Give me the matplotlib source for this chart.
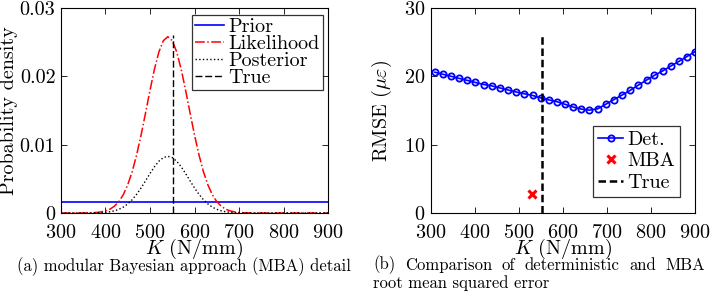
import matplotlib
matplotlib.use("Agg")
import matplotlib.pyplot as plt

plt.rcParams['font.family'] = 'cmr10'
plt.rcParams['mathtext.fontset'] = 'cm'
plt.rcParams['axes.unicode_minus'] = False
plt.rcParams['axes.formatter.use_mathtext'] = True

# (a) densities, every 10 N/mm
k_grid = [300, 310, 320, 330, 340, 350, 360, 370, 380, 390,
          400, 410, 420, 430, 440, 450, 460, 470, 480, 490,
          500, 510, 520, 530, 540, 550, 560, 570, 580, 590,
          600, 610, 620, 630, 640, 650, 660, 670, 680, 690,
          700, 710, 720, 730, 740, 750, 760, 770, 780, 790,
          800, 810, 820, 830, 840, 850, 860, 870, 880, 890, 900]
prior = [0.00167] * len(k_grid)
likelihood = [0.0, 0.0, 0.0, 0.0, 0.0, 0.00001, 0.00002, 0.00004, 0.00008, 0.00016,
              0.00031, 0.00056, 0.00099, 0.00167, 0.00268, 0.00413, 0.00606, 0.00851, 0.01142, 0.01465,
              0.01796, 0.02105, 0.02357, 0.02522, 0.0258, 0.02522, 0.02357, 0.02105, 0.01796, 0.01465,
              0.01142, 0.00851, 0.00606, 0.00413, 0.00268, 0.00167, 0.00099, 0.00056, 0.00031, 0.00016,
              0.00008, 0.00004, 0.00002, 0.00001, 0.0, 0.0, 0.0, 0.0, 0.0, 0.0,
              0.0, 0.0, 0.0, 0.0, 0.0, 0.0, 0.0, 0.0, 0.0, 0.0, 0.0]
posterior = [0.0, 0.0, 0.0, 0.0, 0.0, 0.0, 0.0, 0.0, 0.00002, 0.00005,
             0.00010, 0.00018, 0.00032, 0.00054, 0.00086, 0.00133, 0.00195, 0.00274, 0.00367, 0.00471,
             0.00578, 0.00677, 0.00758, 0.00811, 0.0083, 0.00811, 0.00758, 0.00677, 0.00578, 0.00471,
             0.00367, 0.00274, 0.00195, 0.00133, 0.00086, 0.00054, 0.00032, 0.00018, 0.00010, 0.00005,
             0.00002, 0.0, 0.0, 0.0, 0.0, 0.0, 0.0, 0.0, 0.0, 0.0,
             0.0, 0.0, 0.0, 0.0, 0.0, 0.0, 0.0, 0.0, 0.0, 0.0, 0.0]
true_k = [552, 552]
true_pdf = [0, 0.026]

# (b) RMSE
k_det = [309, 327, 346, 364, 383, 401, 420, 438, 457, 475, 494, 512, 531, 549, 568, 586, 605,
         623, 642, 660, 679, 697, 716, 734, 753, 771, 790, 808, 827, 845, 864, 882, 900]
rmse_det = [20.6, 20.3, 20.0, 19.7, 19.4, 19.1, 18.8, 18.6, 18.3, 18.0, 17.7, 17.45, 17.2, 16.85,
            16.55, 16.3, 15.9, 15.5, 15.2, 15.05, 15.25, 15.9, 16.6, 17.25, 17.95, 18.7, 19.45,
            20.15, 20.8, 21.5, 22.2, 22.9, 23.6]
k_mba = [530]
rmse_mba = [2.8]
true_rmse = [0, 26]

xticks = [300, 400, 500, 600, 700, 800, 900]
yticks_a = [0, 0.01, 0.02, 0.03]
yticklabels_a = ['0', '0.01', '0.02', '0.03']
yticks_b = [0, 10, 20, 30]

caption_a = '(a) modular Bayesian approach (MBA) detail'
caption_b1 = '(b) Comparison of deterministic and MBA'
caption_b2 = 'root mean squared error'

fs = 14.5
cfs = 12
fig = plt.figure(figsize=(7.1, 2.96), dpi=100)
ax1 = fig.add_axes([0.0859, 0.2804, 0.3761, 0.6926])
ax2 = fig.add_axes([0.607, 0.2804, 0.3718, 0.6926])

ax1.plot(k_grid, prior, color='#0000ff', lw=1.2, label='Prior')
ax1.plot(k_grid, likelihood, color='#ff0000', lw=1.1, ls='-.', label='Likelihood')
ax1.plot(k_grid, posterior, color='black', lw=1.0, ls=':', label='Posterior')
ax1.plot(true_k, true_pdf, color='black', lw=1.0, ls='--', dashes=(5, 2), label='True')
ax1.set_xlim(300, 900)
ax1.set_ylim(0, 0.03)
ax1.set_yticks(yticks_a)
ax1.set_yticklabels(yticklabels_a)
ax1.set_ylabel('Probability density', fontsize=fs, labelpad=1)
leg1 = ax1.legend(loc='upper right', bbox_to_anchor=(1.0, 0.99), fontsize=fs, frameon=True,
                  fancybox=False, borderaxespad=0.25, handlelength=1.4, handletextpad=0.25,
                  labelspacing=-0.05, borderpad=0.15)
leg1.get_frame().set_edgecolor('black')
leg1.get_frame().set_linewidth(0.9)

ax2.plot(k_det, rmse_det, color='#0000ff', lw=1.2, marker='o', ms=4.5,
         mfc='none', mew=1.3, label='Det.')
ax2.plot(k_mba, rmse_mba, ls='none', marker='x', color='#ff0000', ms=6, mew=2.2, label='MBA')
ax2.plot(true_k, true_rmse, color='black', lw=1.8, ls='--', dashes=(3, 1.5), label='True')
ax2.set_xlim(300, 900)
ax2.set_ylim(0, 30)
ax2.set_yticks(yticks_b)
ax2.set_ylabel(r'RMSE ($\mu\varepsilon$)', fontsize=fs, labelpad=7)
leg2 = ax2.legend(loc='lower right', bbox_to_anchor=(0.945, 0.08), fontsize=fs, frameon=True,
                  fancybox=False, borderaxespad=0.0, handlelength=1.2, handletextpad=0.25,
                  labelspacing=0.15, borderpad=0.25)
leg2.get_frame().set_edgecolor('black')
leg2.get_frame().set_linewidth(0.9)

for ax in (ax1, ax2):
    ax.set_xticks(xticks)
    ax.set_xlabel(r'$K$ (N/mm)', fontsize=fs, labelpad=-3.5)
    ax.tick_params(direction='in', top=True, right=True, length=4, width=0.6,
                   labelsize=fs)
    ax.tick_params(axis='x', pad=8)
    ax.tick_params(axis='y', pad=4)
    for s in ax.spines.values():
        s.set_linewidth(0.8)

fig.text(17 / 710, 1 - 267 / 296, caption_a, fontsize=cfs, ha='left', va='center')

# caption (b): first line justified between x=373 and x=705 px
renderer = fig.canvas.get_renderer()
words = caption_b1.split(' ')
items = [fig.text(0, 1 - 265 / 296, w, fontsize=cfs, ha='left', va='center') for w in words]
widths = [t.get_window_extent(renderer).width for t in items]
gap = (705 - 373 - sum(widths)) / (len(words) - 1)
x = 373
for t, w in zip(items, widths):
    t.set_x(x / 710)
    x += w + gap
fig.text(373 / 710, 1 - 283 / 296, caption_b2, fontsize=cfs, ha='left', va='center')

fig.savefig('out.png', dpi=100)
